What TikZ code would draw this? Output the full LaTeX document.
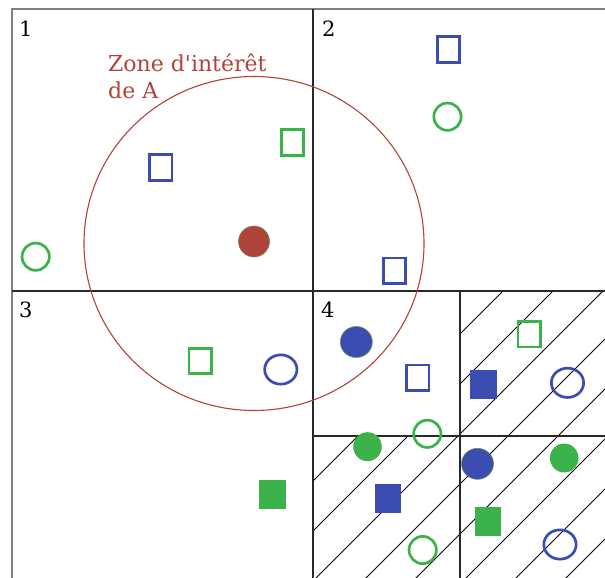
\documentclass[tikz,border=0pt]{standalone}
\usepackage{fontspec}
\setmainfont{DejaVu Serif}[Ligatures=TeXOff]
\usetikzlibrary{shapes.geometric}
\definecolor{myblue}{RGB}{59,77,176}
\definecolor{mygreen}{RGB}{59,178,74}
\definecolor{myred}{RGB}{176,68,58}
\definecolor{dotedge}{RGB}{110,140,90}
\definecolor{gridc}{RGB}{40,40,40}
\begin{document}
\begin{tikzpicture}[x=1pt,y=-1pt,
  osq/.style={rectangle, draw, line width=2.7pt, inner sep=0pt, minimum width=22.3pt, minimum height=25.5pt},
  fsq/.style={rectangle, inner sep=0pt, minimum width=26.5pt, minimum height=29pt},
  ocirc/.style={ellipse, draw, line width=2.7pt, inner sep=0pt, minimum width=27.3pt, minimum height=27.3pt},
  obcirc/.style={ellipse, draw, line width=2.7pt, inner sep=0pt, minimum width=32.3pt, minimum height=29.3pt},
  fcirc/.style={ellipse, draw=dotedge, line width=0.6pt, inner sep=0pt, minimum width=32pt, minimum height=31pt},
  fgcirc/.style={ellipse, inner sep=0pt, minimum width=28.5pt, minimum height=29pt},
  gridline/.style={draw=gridc, line width=1.1pt},
  hatch/.style={draw=black, line width=0.8pt},
  numlabel/.style={anchor=base west, inner sep=0pt, font=\fontsize{21}{25}\selectfont},
  zonelabel/.style={anchor=base west, inner sep=0pt, text=myred, font=\fontsize{22}{26}\selectfont}
]
\fill[white] (0,0) rectangle (605,578);
\useasboundingbox (0,0) rectangle (605,578);

% hatching in quadrant 4 (L-shaped region)
\begin{scope}
  \clip (460,291) -- (605,291) -- (605,578) -- (313,578) -- (313,436) -- (460,436) -- cycle;
  \foreach \k in {0,...,7}{
    \pgfmathsetmacro{\c}{794+50*\k}
    \draw[hatch] (\c-620,620) -- (\c-250,250);
  }
\end{scope}

% outer border
\draw[gray, line width=2pt] (12,578) -- (12,9) -- (605,9);
% grid
\draw[gridline] (313,9) -- (313,578);
\draw[gridline] (12,291) -- (605,291);
\draw[gridline] (460,291) -- (460,578);
\draw[gridline] (313,436) -- (605,436);

% quadrant numbers
\node[numlabel] (n1) at (19,37) {1};
\node[numlabel] (n2) at (322,37) {2};
\node[numlabel] (n3) at (19,317) {3};
\node[numlabel] (n4) at (321,317) {4};

% zone of interest
\draw[myred, line width=1.1pt] (254,243.5) ellipse [x radius=170pt, y radius=167pt];
\node[zonelabel] (z1) at (108,72) {Zone d'intérêt};
\node[zonelabel] (z2) at (108,99) {de A};
\node[fcirc, fill=myred, minimum width=31pt, minimum height=31pt] (A) at (254,241.5) {};

% quadrant 1
\node[ocirc, draw=mygreen] (g1) at (35.7,256.7) {};
\node[osq, draw=myblue] (b1) at (160.8,167.5) {};
\node[osq, draw=mygreen] (g2) at (292.5,142.5) {};

% quadrant 2
\node[osq, draw=myblue] (b2) at (448.5,49.5) {};
\node[ocirc, draw=mygreen] (g3) at (447.5,116.7) {};
\node[osq, draw=myblue] (b3) at (394.5,270.8) {};

% quadrant 3
\node[osq, draw=mygreen] (g4) at (200,361) {};
\node[obcirc, draw=myblue] (b4) at (280.8,369.5) {};
\node[fsq, fill=mygreen] (g5) at (272.3,494.7) {};

% quadrant 4
\node[fcirc, fill=myblue] (b5) at (356.3,342) {};
\node[osq, draw=myblue] (b6) at (417.8,377.8) {};
\node[ocirc, draw=mygreen] (g6) at (427.3,433.8) {};
\node[osq, draw=mygreen] (g7) at (529.2,334.2) {};
\node[fsq, fill=myblue] (b7) at (483.3,384.7) {};
\node[obcirc, draw=myblue] (b8) at (567.5,382.8) {};
\node[fgcirc, fill=mygreen] (g8) at (367.5,446.7) {};
\node[fcirc, fill=myblue] (b9) at (477.5,463.8) {};
\node[fgcirc, fill=mygreen] (g9) at (564.2,458) {};
\node[fsq, fill=myblue] (b10) at (388,498.7) {};
\node[fsq, fill=mygreen] (g10) at (488,521.3) {};
\node[ocirc, draw=mygreen] (g11) at (422.7,550) {};
\node[obcirc, draw=myblue] (b11) at (560,544.5) {};
\end{tikzpicture}
\end{document}
